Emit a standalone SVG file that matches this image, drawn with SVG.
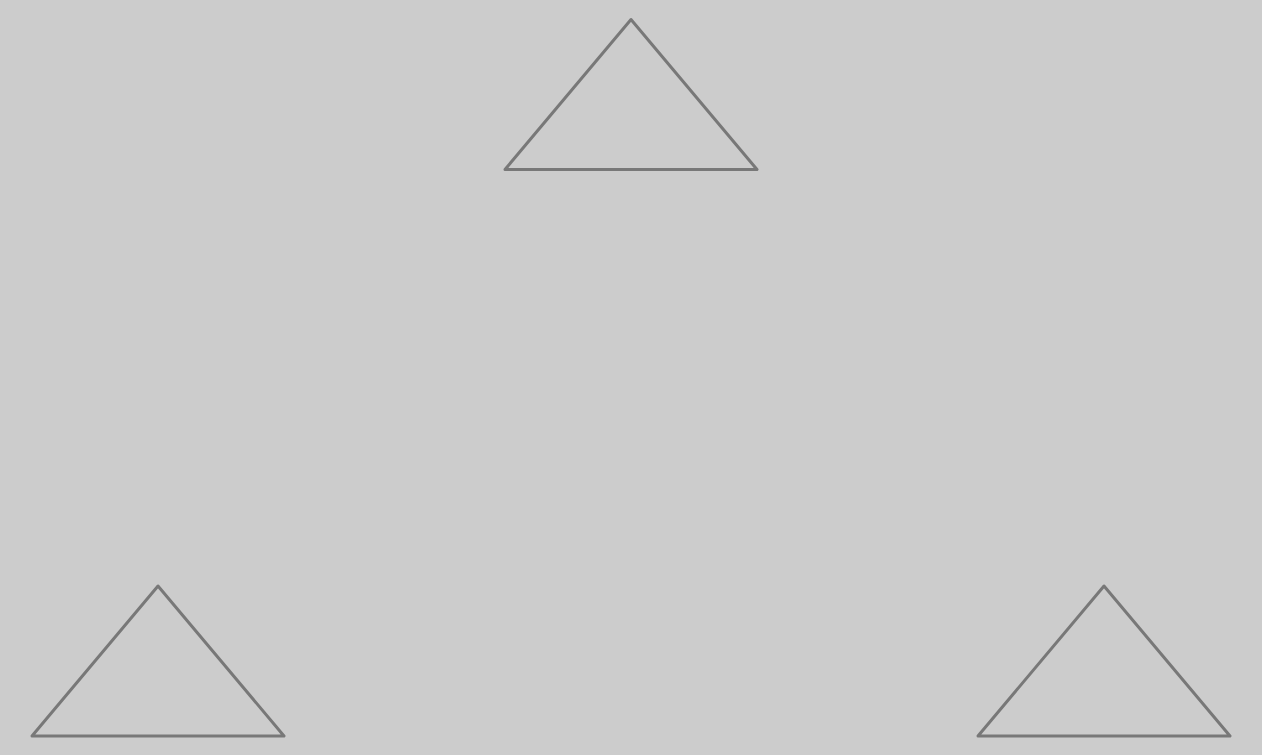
<svg xmlns="http://www.w3.org/2000/svg" width="1262" height="755" viewBox="0 0 1262 755">
<style>
.tri{fill:none;stroke:#787878;stroke-width:3;stroke-linejoin:round;stroke-linecap:round}
</style>
<rect width="1262" height="755" fill="#cccccc"/>
<g id="node-top"><polygon class="tri" points="631,19.5 757,169.5 505,169.5"/></g>
<g id="node-left"><polygon class="tri" points="158,586 284,736 32,736"/></g>
<g id="node-right"><polygon class="tri" points="1104,586 1230,736 978,736"/></g>
<g id="connectors"></g>
</svg>
